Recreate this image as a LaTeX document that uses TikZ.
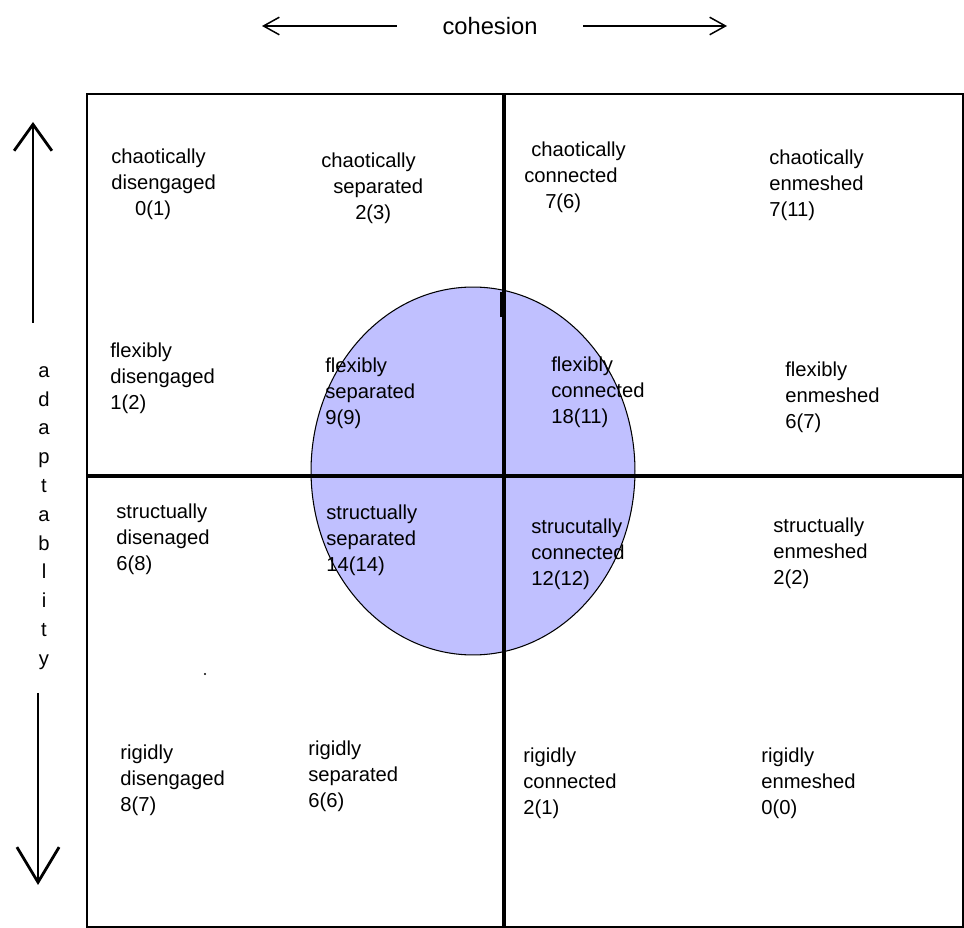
\documentclass[tikz,border=0pt]{standalone}
\usepackage{fontspec}
\setmainfont{Liberation Sans}
\usepackage{xcolor}
\usetikzlibrary{arrows.meta, positioning}

\definecolor{balanced}{RGB}{192,192,255}

\begin{document}
\begin{tikzpicture}[
    x=0.02cm, y=-0.02cm,
    cell/.style={anchor=base west, align=left, inner sep=0pt, font=\fontsize{11.5}{14.8}\selectfont},
    divider/.style={line width=2pt},
    axis/.style={line width=1.6pt},
    thinaxis/.style={line width=0.85pt, -{Straight Barb[length=9pt, width=10pt]}},
]
    \useasboundingbox (0,0) rectangle (964,928);

    % balanced region
    \draw[fill=balanced, line width=0.6pt] (473,471) ellipse [x radius=3.24cm, y radius=3.68cm];

    % grid
    \draw[line width=0.85pt] (87,94) rectangle (963,927);
    \draw[divider] (504,94) -- (504,927);
    \draw[divider] (87,476) -- (964,476);
    \draw[line width=2.4pt] (502,292) -- (502,317);
    \fill (205,674) circle (0.6pt);

    % axes
    \node[font=\fontsize{13.5}{16}\selectfont, inner xsep=25.8pt, inner ysep=0pt] (cohesion) at (490,26) {cohesion};
    \coordinate (coh_left) at (262,26);
    \coordinate (coh_right) at (727,26);
    \draw[thinaxis] (cohesion) -- (coh_left);
    \draw[thinaxis] (cohesion) -- (coh_right);

    \node[align=center, inner sep=0pt, font=\fontsize{11.5}{16.4}\selectfont] (adapt) at (44,518) {a\\d\\a\\p\\t\\a\\b\\l\\i\\t\\y};
    \coordinate (up_bot) at (33,323);
    \coordinate (up_top) at (33,122);
    \coordinate (down_top) at (38,693);
    \coordinate (down_bot) at (38,885);
    \draw[axis, -{Straight Barb[length=15pt, width=21.5pt]}] (up_bot) -- (up_top);
    \draw[axis, -{Straight Barb[length=20pt, width=24pt]}] (down_top) -- (down_bot);

    % chaotically (base = last line)
    \node[cell] (chaotic_dis) at (111,216) {chaotically\\disengaged\\\hspace*{13.6pt}0(1)};
    \node[cell] (chaotic_sep) at (321,220) {chaotically\\\hspace*{6.8pt}separated\\\hspace*{19.3pt}2(3)};
    \node[cell] (chaotic_con) at (524,209) {\hspace*{4pt}chaotically\\connected\\\hspace*{11.9pt}7(6)};
    \node[cell] (chaotic_enm) at (769,217) {chaotically\\enmeshed\\7(11)};

    % flexibly
    \node[cell] (flex_dis) at (110,410) {flexibly\\disengaged\\1(2)};
    \node[cell] (flex_sep) at (325,425) {flexibly\\separated\\9(9)};
    \node[cell] (flex_con) at (551,424) {flexibly\\connected\\18(11)};
    \node[cell] (flex_enm) at (785,429) {flexibly\\enmeshed\\6(7)};

    % structurally
    \node[cell] (struct_dis) at (116,571) {structually\\disenaged\\6(8)};
    \node[cell] (struct_sep) at (326,572) {structually\\separated\\14(14)};
    \node[cell] (struct_con) at (531,586) {strucutally\\connected\\12(12)};
    \node[cell] (struct_enm) at (773,585) {structually\\enmeshed\\2(2)};

    % rigidly
    \node[cell] (rigid_dis) at (120,812) {rigidly\\disengaged\\8(7)};
    \node[cell] (rigid_sep) at (308,808) {rigidly\\separated\\6(6)};
    \node[cell] (rigid_con) at (523,815) {rigidly\\connected\\2(1)};
    \node[cell] (rigid_enm) at (761,815) {rigidly\\enmeshed\\0(0)};
\end{tikzpicture}
\end{document}
